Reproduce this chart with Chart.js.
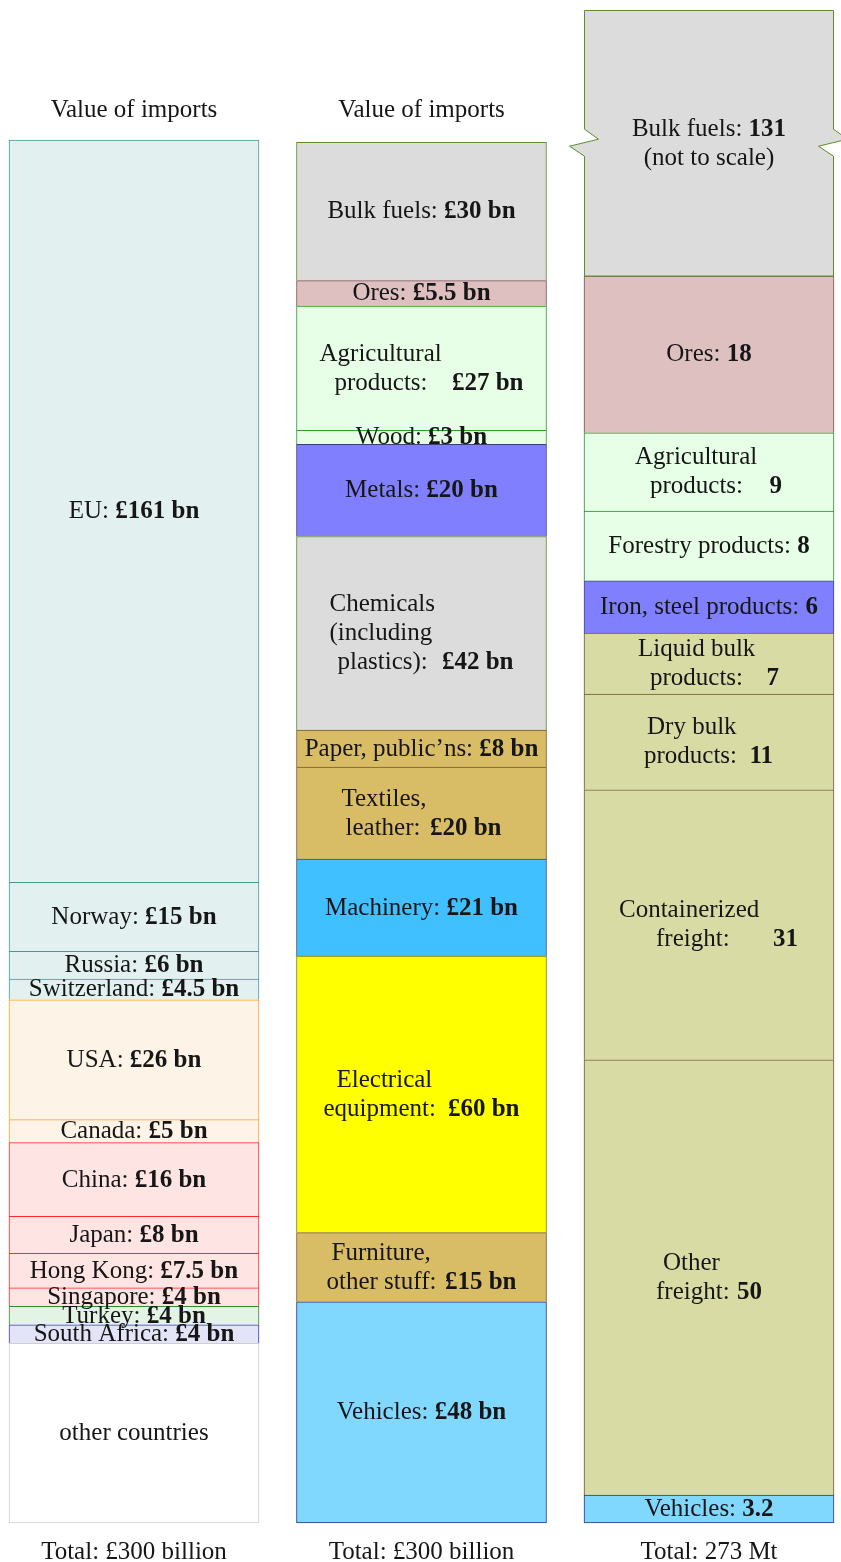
<!DOCTYPE html>
<html>
<head>
<meta charset="utf-8">
<title>Imports: origin, goods and tonnage</title>
<script src="https://cdn.jsdelivr.net/npm/chart.js@4.4.1/dist/chart.umd.min.js"></script>
<style>
  html, body { margin: 0; padding: 0; background: #fff; }
  #wrap { position: relative; width: 841px; height: 1562px; }
</style>
</head>
<body>
<div id="wrap"><canvas id="imports"></canvas></div>
<script>
// value of imports by origin, £ bn (listed top to bottom)
const countryNames = ['EU', 'Norway', 'Russia', 'Switzerland', 'USA', 'Canada', 'China', 'Japan',
  'Hong Kong', 'Singapore', 'Turkey', 'South Africa', 'other countries'];
const countryValues = [161, 15, 6, 4.5, 26, 5, 16, 8, 7.5, 4, 4, 4, 39];

// value of imports by type of goods, £ bn
const goodsNames = ['Bulk fuels', 'Ores', 'Agricultural products', 'Wood', 'Metals',
  'Chemicals (including plastics)', 'Paper, public\u2019ns', 'Textiles, leather', 'Machinery',
  'Electrical equipment', 'Furniture, other stuff', 'Vehicles'];
const goodsValues = [30, 5.5, 27, 3, 20, 42, 8, 20, 21, 60, 15, 48];

// imports by weight, Mt (bulk fuels is drawn with a break)
const freightNames = ['Bulk fuels', 'Ores', 'Agricultural products', 'Forestry products',
  'Iron, steel products', 'Liquid bulk products', 'Dry bulk products', 'Containerized freight',
  'Other freight', 'Vehicles'];
const freightValues = [131, 18, 9, 8, 6, 7, 11, 31, 50, 3.2];

const columnTitles = ['Value of imports', 'Value of imports', ''];
const columnTotals = ['Total: \u00a3300 billion', 'Total: \u00a3300 billion', 'Total: 273 Mt'];

// colours
const countryFill = ['#e2f0f0', '#e2f0f0', '#e2f0f0', '#e2f0f0', '#fdf3e6', '#fdf3e6',
  '#ffe4e4', '#ffe4e4', '#ffe4e4', '#ffe4e4', '#e4f4e4', '#e3e4f7', '#ffffff'];
const countryLine = ['#3d9c9c', '#3d9c9c', '#3d9c9c', '#3d9c9c', '#ffa42a', '#ffa42a',
  '#ff2a2a', '#ff2a2a', '#ff2a2a', '#ff2a2a', '#2e8a2e', '#3535c8', '#cfcfcf'];
const goodsFill = ['#dcdcdc', '#dfc0c0', '#e6ffe6', '#e6ffe6', '#8080ff', '#dcdcdc', '#d9bc66',
  '#d9bc66', '#40c0ff', '#ffff00', '#d9bc66', '#80d8ff'];
const goodsLine = ['#5b8f29', '#7b5050', '#2aa22a', '#2aa22a', '#3c3c80', '#5b8f29', '#7a5a24',
  '#7a5a24', '#3c4a80', '#808020', '#7a5a24', '#30308a'];
const freightFill = ['#dcdcdc', '#dfc0c0', '#e6ffe6', '#e6ffe6', '#8080ff', '#d8dca4', '#d8dca4',
  '#d8dca4', '#d8dca4', '#80d8ff'];
const freightLine = ['#5b8f29', '#7b5050', '#2a8a2a', '#2a8a2a', '#3c4a80', '#6b5a2a', '#6b5a2a',
  '#6b5a2a', '#6b5a2a', '#30308a'];

const FONT = "'Liberation Serif', serif";
const FONT_SIZE = 25;
const LINE_H = 29;
const TEXT = '#161616';

// wrapped labels: [text, offset from bar's left edge], value right-aligned at valueRight
const wrapLayout = {
  '1:Agricultural products': { lines: [['Agricultural', 23], ['products:', 38]], valueRight: 227 },
  '1:Chemicals (including plastics)': { lines: [['Chemicals', 33], ['(including', 33], ['plastics):', 41]], valueRight: 217 },
  '1:Textiles, leather': { lines: [['Textiles,', 45], ['leather:', 49]], valueRight: 205 },
  '1:Electrical equipment': { lines: [['Electrical', 40], ['equipment:', 27]], valueRight: 223 },
  '1:Furniture, other stuff': { lines: [['Furniture,', 35], ['other stuff:', 30]], valueRight: 220 },
  '2:Agricultural products': { lines: [['Agricultural', 51], ['products:', 66]], valueRight: 198 },
  '2:Liquid bulk products': { lines: [['Liquid bulk', 54], ['products:', 66]], valueRight: 195 },
  '2:Dry bulk products': { lines: [['Dry bulk', 63], ['products:', 60]], valueRight: 189 },
  '2:Containerized freight': { lines: [['Containerized', 35], ['freight:', 72]], valueRight: 214 },
  '2:Other freight': { lines: [['Other', 79], ['freight:', 72]], valueRight: 178 }
};
const nameOnly = ['other countries'];
const brokenNote = '(not to scale)';

const columns = [
  { names: countryNames, values: countryValues, fill: countryFill, line: countryLine, axis: 'y', fmt: v => '\u00a3' + v + ' bn' },
  { names: goodsNames, values: goodsValues, fill: goodsFill, line: goodsLine, axis: 'y', fmt: v => '\u00a3' + v + ' bn' },
  { names: freightNames, values: freightValues, fill: freightFill, line: freightLine, axis: 'y2', fmt: v => String(v) }
];

// one dataset per segment, stacked from the bottom up
const datasets = [];
columns.forEach((col, c) => {
  for (let i = col.values.length - 1; i >= 0; i--) {
    const data = [null, null, null];
    data[c] = col.values[i];
    const broken = c === 2 && i === 0;
    datasets.push({
      label: col.names[i],
      data: data,
      yAxisID: col.axis,
      backgroundColor: broken ? 'rgba(0,0,0,0)' : col.fill[i],
      borderColor: broken ? 'rgba(0,0,0,0)' : col.line[i],
      borderWidth: 1,
      borderSkipped: i === col.values.length - 1 ? false : 'start',
      barThickness: 250,
      grouped: false,
      clip: false,
      column: c,
      segment: i,
      broken: broken
    });
  }
});

function setFont(ctx, bold) {
  ctx.font = (bold ? 'bold ' : '') + FONT_SIZE + 'px ' + FONT;
}

function runsWidth(ctx, runs) {
  let w = 0;
  runs.forEach(r => { setFont(ctx, r[1]); w += ctx.measureText(r[0]).width; });
  return w;
}

function drawRuns(ctx, runs, x, y) {
  runs.forEach(r => {
    setFont(ctx, r[1]);
    ctx.fillText(r[0], x, y);
    x += ctx.measureText(r[0]).width;
  });
}

// bar whose value runs off the top: drawn clipped to the plot with a break on both sides
function drawBrokenBar(ctx, bar, area, fill, line) {
  const L = bar.x - bar.width / 2 + 0.5;
  const R = bar.x + bar.width / 2 - 0.5;
  const top = Math.max(bar.y, area.top) + 0.5;
  const base = bar.base;
  const yA = base - (base - top) * 0.553;
  ctx.save();
  ctx.beginPath();
  ctx.moveTo(L, top);
  ctx.lineTo(R, top);
  ctx.lineTo(R, yA);
  ctx.lineTo(R + 14, yA + 10);
  ctx.lineTo(R - 15, yA + 17);
  ctx.lineTo(R, yA + 27);
  ctx.lineTo(R, base);
  ctx.lineTo(L, base);
  ctx.lineTo(L, yA + 27);
  ctx.lineTo(L - 15, yA + 17);
  ctx.lineTo(L + 14, yA + 10);
  ctx.lineTo(L, yA);
  ctx.closePath();
  ctx.fillStyle = fill;
  ctx.fill();
  ctx.lineWidth = 1;
  ctx.strokeStyle = line;
  ctx.stroke();
  ctx.restore();
}

const segmentLabels = {
  id: 'segmentLabels',
  afterDatasetsDraw(chart) {
    const { ctx, chartArea } = chart;
    ctx.save();
    ctx.textBaseline = 'alphabetic';
    ctx.textAlign = 'left';
    chart.data.datasets.forEach((ds, di) => {
      const bar = chart.getDatasetMeta(di).data[ds.column];
      const col = columns[ds.column];
      if (ds.broken) {
        drawBrokenBar(ctx, bar, chartArea, col.fill[ds.segment], col.line[ds.segment]);
      }
      const top = Math.max(bar.y, chartArea.top);
      const cy = (top + bar.base) / 2 + 7;
      const left = bar.x - bar.width / 2;
      const name = col.names[ds.segment];
      const value = col.values[ds.segment];
      const valueText = col.fmt(value);
      ctx.fillStyle = TEXT;

      const layout = wrapLayout[ds.column + ':' + name];
      if (layout) {
        const n = layout.lines.length;
        layout.lines.forEach((ln, k) => {
          const y = cy + (k - (n - 1) / 2) * LINE_H;
          drawRuns(ctx, [[ln[0], false]], left + ln[1], y);
          if (k === n - 1) {
            setFont(ctx, true);
            const w = ctx.measureText(valueText).width;
            ctx.fillText(valueText, left + layout.valueRight - w, y);
          }
        });
        return;
      }

      let lines;
      if (nameOnly.includes(name)) {
        lines = [[[name, false]]];
      } else {
        lines = [[[name + ': ', false], [valueText, true]]];
      }
      if (ds.broken) lines.push([[brokenNote, false]]);
      const n = lines.length;
      lines.forEach((runs, k) => {
        const y = cy + (k - (n - 1) / 2) * LINE_H;
        drawRuns(ctx, runs, bar.x - runsWidth(ctx, runs) / 2, y);
      });
    });
    ctx.restore();
  },
  afterDraw(chart) {
    const { ctx } = chart;
    const xs = chart.scales.x;
    ctx.save();
    ctx.fillStyle = TEXT;
    ctx.textAlign = 'center';
    ctx.textBaseline = 'alphabetic';
    setFont(ctx, false);
    columns.forEach((col, c) => {
      const x = xs.getPixelForValue(c);
      const ys = chart.scales[col.axis];
      if (columnTitles[c]) {
        ctx.fillText(columnTitles[c], x, ys.getPixelForValue(300) - 23);
      }
      ctx.fillText(chart.data.labels[c], x, ys.getPixelForValue(0) + 36);
    });
    ctx.restore();
  }
};

new Chart(document.getElementById('imports'), {
  type: 'bar',
  data: { labels: columnTotals, datasets: datasets },
  options: {
    responsive: true,
    maintainAspectRatio: false,
    animation: false,
    layout: { padding: { left: 134, right: 132, top: 10, bottom: 39 } },
    plugins: { legend: { display: false }, tooltip: { enabled: false } },
    scales: {
      x: { type: 'category', offset: false, stacked: true, display: false },
      y: { stacked: true, min: 0, max: 328.2, display: false },
      y2: { stacked: true, min: 0, max: 173.75, display: false }
    }
  },
  plugins: [segmentLabels]
});
</script>
</body>
</html>
